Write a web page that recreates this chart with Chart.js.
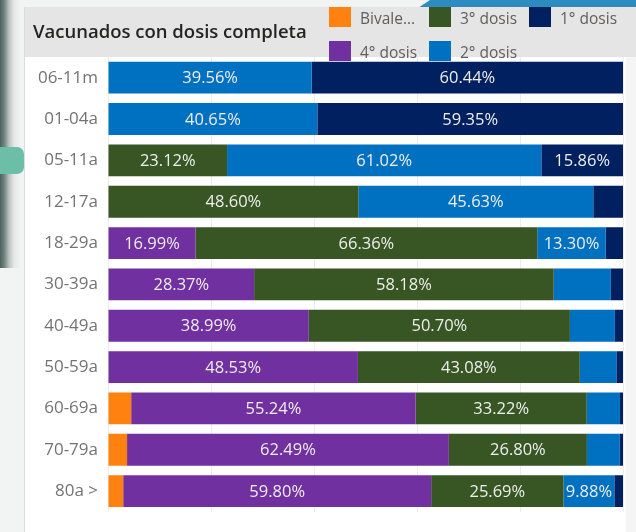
<!DOCTYPE html>
<html>
<head>
<meta charset="utf-8">
<script src="https://cdn.jsdelivr.net/npm/chart.js@4.4.1/dist/chart.umd.min.js"></script>
<style>
  html, body { margin: 0; padding: 0; }
  body { width: 636px; height: 532px; position: relative; overflow: hidden; background: #f2f3f3; font-family: "Open Sans", sans-serif; }
  #leftStrip { position: absolute; left: 0; top: 0; width: 20px; height: 268px;
    background: linear-gradient(to right, #4d625c 0px, #6f807b 4px, #b9c1bf 9px, #e4e7e6 14px, #f2f3f3 20px); }
  #tealTab { position: absolute; left: 0; top: 147px; width: 24px; height: 27px; background: #6cbfa6; border-radius: 0 7px 7px 0; }
  #topBand { position: absolute; left: 418px; top: 0; width: 218px; height: 8px; background: #2d8cbf;
    clip-path: polygon(0 100%, 12px 0, 100% 0, 100% 100%); }
  #panel { position: absolute; left: 24px; top: 7px; width: 612px; height: 525px;
    background: linear-gradient(#e5e5e5 0px, #e5e5e5 50px, #ffffff 50px);
    border-left: 1px solid #dcdcdc; box-sizing: border-box; }
  #rightEdge { position: absolute; left: 626px; top: 57px; width: 10px; height: 475px; background: #f5f5f5; }
  #wrap { position: absolute; left: 0; top: 0; width: 612px; height: 525px; }
</style>
</head>
<body>
<div id="leftStrip"></div>
<div id="tealTab"></div>
<div id="topBand"></div>
<div id="panel">
  <div id="wrap"><canvas id="c"></canvas></div>
</div>
<div id="rightEdge"></div>
<script>
const chartTitle = 'Vacunados con dosis completa';
const categories = ['06-11m','01-04a','05-11a','12-17a','18-29a','30-39a','40-49a','50-59a','60-69a','70-79a','80a >'];
const seriesNames = ['Bivalente','4° dosis','3° dosis','2° dosis','1° dosis'];
const bivalente = [0, 0, 0, 0, 0, 0, 0, 0, 4.50, 3.70, 2.95];
const dosis4 =    [0, 0, 0, 0, 16.99, 28.37, 38.99, 48.53, 55.24, 62.49, 59.80];
const dosis3 =    [0, 0, 23.12, 48.60, 66.36, 58.18, 50.70, 43.08, 33.22, 26.80, 25.69];
const dosis2 =    [39.56, 40.65, 61.02, 45.63, 13.30, 11.10, 8.74, 7.10, 6.45, 6.40, 9.88];
const dosis1 =    [60.44, 59.35, 15.86, 5.77, 3.35, 2.35, 1.57, 1.29, 0.59, 0.61, 1.68];
const xTicks = [0, 20, 40, 60, 80, 100];
const seriesColors = ['#ff8210', '#7030a0', '#375623', '#0070c0', '#002060'];

const seriesValues = [bivalente, dosis4, dosis3, dosis2, dosis1];

const labelPlugin = {
  id: 'segLabels',
  afterDatasetsDraw(chart) {
    const ctx = chart.ctx;
    ctx.save();
    ctx.font = '16.5px "Open Sans"';
    ctx.fillStyle = '#eeeeee';
    ctx.textAlign = 'center';
    ctx.textBaseline = 'middle';
    chart.data.datasets.forEach((ds, di) => {
      const meta = chart.getDatasetMeta(di);
      meta.data.forEach((bar, i) => {
        const v = ds.data[i];
        if (!v) return;
        const w = Math.abs(bar.x - bar.base);
        const txt = v.toFixed(2) + '%';
        const tw = ctx.measureText(txt).width;
        if (tw + 3 <= w) {
          ctx.fillText(txt, (bar.x + bar.base) / 2, bar.y + 1);
        }
      });
    });
    ctx.restore();
  }
};

const headerPlugin = {
  id: 'header',
  afterDraw(chart) {
    const ctx = chart.ctx;
    ctx.save();
    ctx.font = '600 18.5px "Open Sans"';
    ctx.fillStyle = '#252423';
    ctx.textAlign = 'left';
    ctx.textBaseline = 'alphabetic';
    ctx.fillText(chartTitle, 8, 31);
    // legend, column-major in two rows
    ctx.font = '15.5px "Open Sans"';
    const maxW = 62;
    chart.data.datasets.forEach((ds, i) => {
      const col = Math.floor(i / 2), row = i % 2;
      const x = 304 + col * 100;
      const y = row * 34;
      ctx.fillStyle = ds.backgroundColor;
      ctx.fillRect(x, y, 22, 20);
      let t = ds.label;
      if (ctx.measureText(t).width > maxW) {
        while (t.length > 1 && ctx.measureText(t + '...').width > maxW) t = t.slice(0, -1);
        t = t + '...';
      }
      ctx.fillStyle = '#605e5c';
      ctx.fillText(t, x + 31, y + 17);
    });
    ctx.restore();
  }
};

new Chart(document.getElementById('c'), {
  type: 'bar',
  data: {
    labels: categories,
    datasets: seriesNames.map((n, i) => ({
      label: n,
      data: seriesValues[i],
      backgroundColor: seriesColors[i],
      borderWidth: 0,
      categoryPercentage: 0.77,
      barPercentage: 1.0
    }))
  },
  options: {
    indexAxis: 'y',
    responsive: true,
    maintainAspectRatio: false,
    devicePixelRatio: 1,
    animation: false,
    layout: { padding: { left: 0, right: 14, top: 50, bottom: 0 } },
    plugins: { legend: { display: false }, title: { display: false }, tooltip: { enabled: false } },
    scales: {
      x: {
        stacked: true, min: 0, max: 100,
        afterBuildTicks(scale) { scale.ticks = xTicks.map(v => ({ value: v })); },
        ticks: { display: false },
        grid: { color: '#ececec', lineWidth: 1, drawTicks: false },
        border: { display: false },
        afterFit(scale) { scale.height = 0; }
      },
      y: {
        stacked: true,
        grid: { display: false, drawTicks: false },
        border: { display: false },
        ticks: { color: '#737373', font: { family: '"Open Sans"', size: 17 }, padding: 10 },
        afterFit(scale) { scale.width = 83; }
      }
    }
  },
  plugins: [labelPlugin, headerPlugin]
});
</script>
</body>
</html>
